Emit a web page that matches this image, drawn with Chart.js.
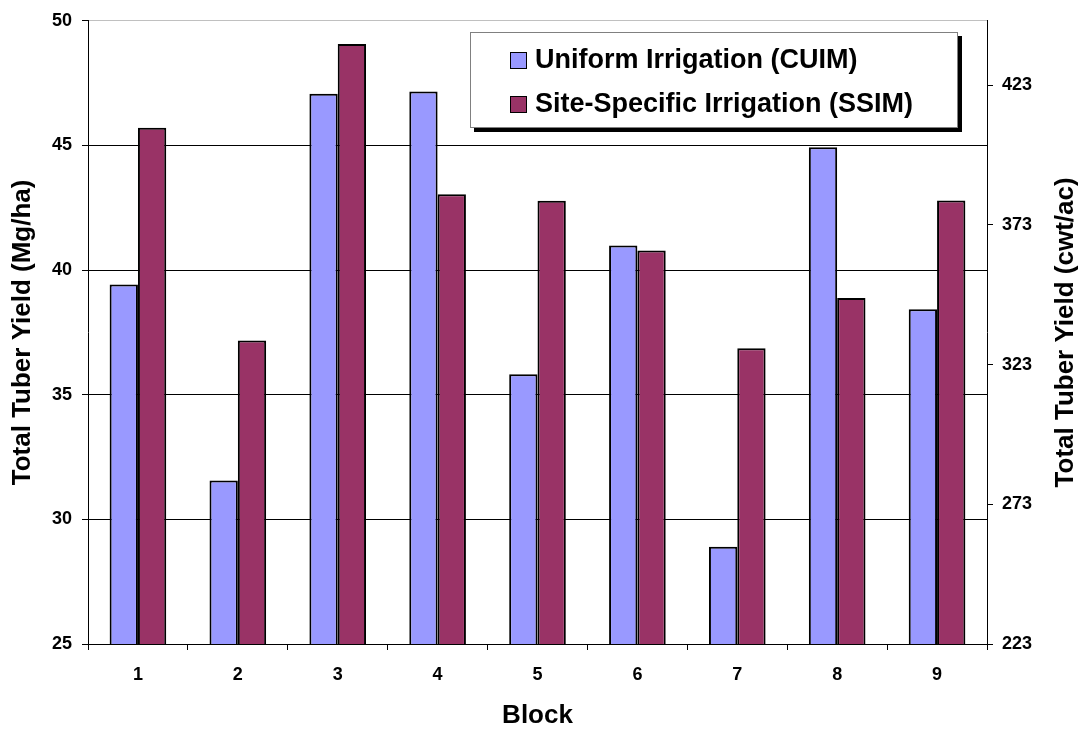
<!DOCTYPE html>
<html>
<head>
<meta charset="utf-8">
<title>Total Tuber Yield by Block</title>
<script src="https://cdn.jsdelivr.net/npm/chart.js@4.4.1/dist/chart.umd.min.js"></script>
<style>
  html, body { margin: 0; padding: 0; background: #fff; }
</style>
</head>
<body>
<canvas id="yieldChart" width="1083" height="733"></canvas>
<script>
// Blocks and yields (Mg/ha)
const blocks = ['1', '2', '3', '4', '5', '6', '7', '8', '9'];
const cuimYield = [39.42, 31.56, 47.07, 47.16, 35.82, 40.99, 28.90, 44.93, 38.43];
const ssimYield = [45.71, 37.18, 49.07, 43.04, 42.78, 40.79, 36.86, 38.88, 42.79];

const seriesNames = ['Uniform Irrigation (CUIM)', 'Site-Specific Irrigation (SSIM)'];
const seriesColors = ['#9999FF', '#993366'];

// Left axis in Mg/ha, right axis in cwt/ac (1 Mg/ha = 8.92 cwt/ac)
const mgMin = 25, mgMax = 50, mgStep = 5;
const MG_TO_CWT = 8.92;
const cwtTicks = [223, 273, 323, 373, 423];

const FONT = '"Liberation Sans", Arial, Helvetica, sans-serif';

// Legend drawn as a framed box with a drop shadow inside the plot
const boxLegend = {
    id: 'boxLegend',
    afterDatasetsDraw(chart) {
        const ctx = chart.ctx;
        const x = 470, y = 32, w = 488, h = 96;
        ctx.save();
        ctx.fillStyle = '#000';
        ctx.fillRect(x + 4, y + 4, w, h);
        ctx.fillStyle = '#fff';
        ctx.fillRect(x, y, w, h);
        ctx.strokeStyle = '#808080';
        ctx.lineWidth = 1;
        ctx.strokeRect(x + 0.5, y + 0.5, w - 1, h - 1);

        ctx.font = 'bold 27px ' + FONT;
        ctx.textBaseline = 'middle';
        ctx.textAlign = 'left';
        chart.data.datasets.forEach((ds, i) => {
            const cy = y + 28 + i * 44;
            ctx.fillStyle = ds.backgroundColor;
            ctx.fillRect(510, cy - 8, 17, 17);
            ctx.strokeStyle = '#000';
            ctx.strokeRect(510.5, cy - 7.5, 16, 16);
            ctx.fillStyle = '#000';
            ctx.fillText(ds.label, 535, cy + 1);
        });
        ctx.restore();
    },
    afterDraw(chart) {
        // right axis title reads bottom-to-top like the left one
        const ctx = chart.ctx;
        const area = chart.chartArea;
        ctx.save();
        ctx.translate(1066, (area.top + area.bottom) / 2);
        ctx.rotate(-Math.PI / 2);
        ctx.font = 'bold 26px ' + FONT;
        ctx.fillStyle = '#000';
        ctx.textAlign = 'center';
        ctx.textBaseline = 'middle';
        ctx.fillText('Total Tuber Yield (cwt/ac)', 0, 0);
        ctx.restore();
    }
};

const ctx = document.getElementById('yieldChart').getContext('2d');

new Chart(ctx, {
    type: 'bar',
    data: {
        labels: blocks,
        datasets: [
            {
                label: seriesNames[0],
                data: cuimYield,
                backgroundColor: seriesColors[0],
                borderColor: '#000',
                borderWidth: 2,
                borderSkipped: false,
                yAxisID: 'y'
            },
            {
                label: seriesNames[1],
                data: ssimYield,
                backgroundColor: seriesColors[1],
                borderColor: '#000',
                borderWidth: 2,
                borderSkipped: false,
                yAxisID: 'y'
            }
        ]
    },
    options: {
        responsive: false,
        animation: false,
        devicePixelRatio: 1,
        layout: { padding: { top: 18, left: 0, right: 0, bottom: 0 } },
        datasets: {
            bar: { categoryPercentage: 0.567, barPercentage: 1.0 }
        },
        plugins: {
            legend: { display: false },
            tooltip: { enabled: false }
        },
        scales: {
            x: {
                offset: true,
                grid: {
                    offset: true,
                    drawOnChartArea: false,
                    drawTicks: true,
                    tickLength: 6,
                    color: '#000'
                },
                border: { display: true, color: '#000', width: 1 },
                ticks: {
                    color: '#000',
                    padding: 14,
                    font: { family: FONT, size: 18, weight: 'bold' }
                },
                title: {
                    display: true,
                    text: 'Block',
                    color: '#000',
                    padding: { top: 0, bottom: 4 },
                    font: { family: FONT, size: 26, weight: 'bold', lineHeight: 1 }
                },
                afterFit(scale) { scale.height = 89; }
            },
            y: {
                position: 'left',
                min: mgMin,
                max: mgMax,
                ticks: {
                    stepSize: mgStep,
                    color: '#000',
                    padding: 10,
                    font: { family: FONT, size: 18, weight: 'bold' }
                },
                grid: {
                    color: (c) => c.tick && c.tick.value === mgMax ? '#c0c0c0' : '#000',
                    tickColor: '#000',
                    tickLength: 6,
                    lineWidth: 1
                },
                border: { display: true, color: '#000', width: 1 },
                title: {
                    display: true,
                    text: 'Total Tuber Yield (Mg/ha)',
                    color: '#000',
                    padding: { top: 10, bottom: 0 },
                    font: { family: FONT, size: 26, weight: 'bold', lineHeight: 1 }
                },
                afterFit(scale) { scale.width = 88; }
            },
            y2: {
                position: 'right',
                min: mgMin * MG_TO_CWT,
                max: mgMax * MG_TO_CWT,
                afterBuildTicks(scale) {
                    scale.ticks = cwtTicks.map(v => ({ value: v }));
                },
                ticks: {
                    color: '#000',
                    padding: 9,
                    font: { family: FONT, size: 18, weight: 'bold' }
                },
                grid: {
                    drawOnChartArea: false,
                    tickLength: 6,
                    color: '#000'
                },
                border: { display: true, color: '#000', width: 1 },
                afterFit(scale) { scale.width = 96; }
            }
        }
    },
    plugins: [boxLegend]
});
</script>
</body>
</html>
